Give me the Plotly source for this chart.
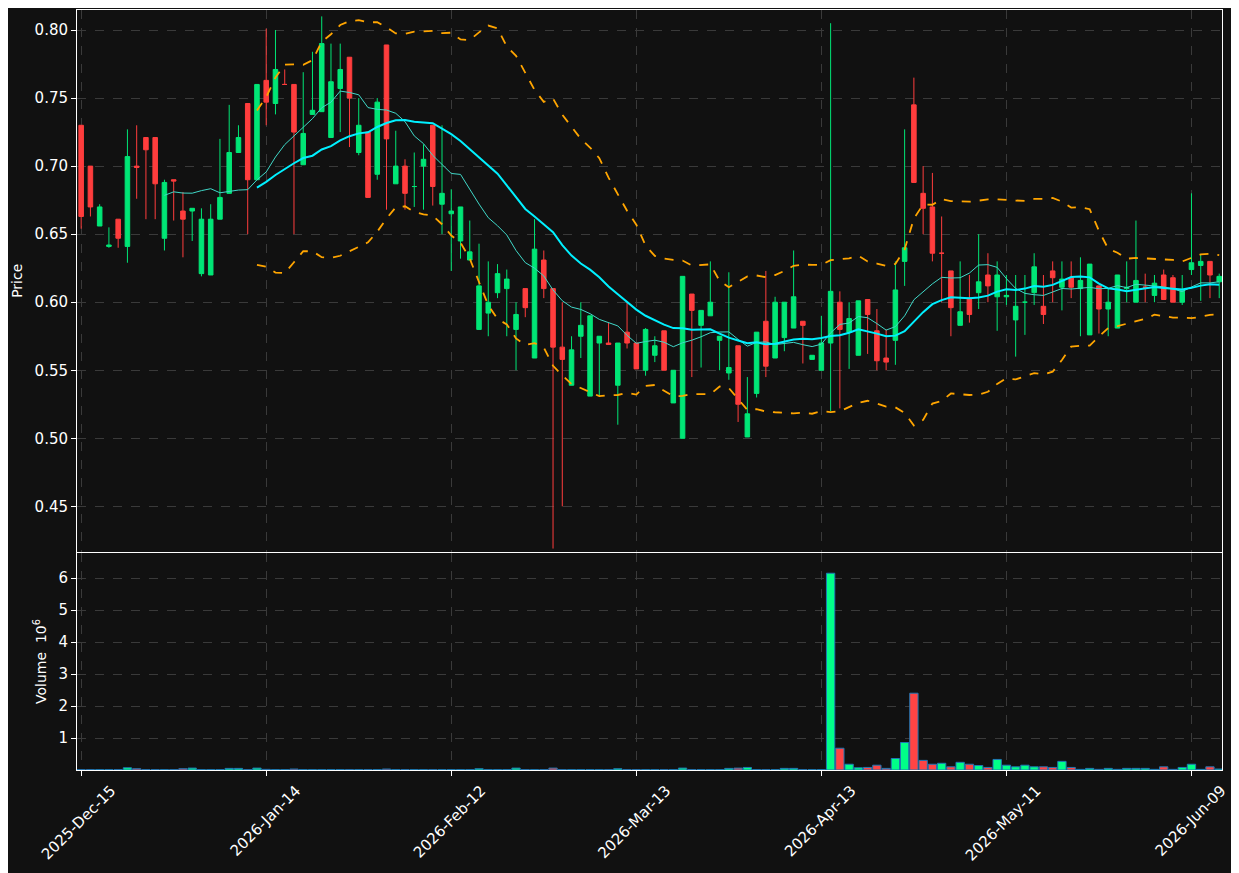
import numpy as np
import pandas as pd
import plotly.graph_objects as go
from plotly.subplots import make_subplots

opens = [0.730,0.700,0.656,0.641,0.661,0.641,0.700,0.721,0.721,0.647,0.690,0.667,0.667,0.621,0.620,0.661,0.680,0.710,0.746,0.690,
         0.763,0.746,0.760,0.760,0.701,0.738,0.740,0.721,0.757,0.780,0.710,0.725,0.694,0.789,0.687,0.700,0.685,0.700,0.730,0.672,
         0.665,0.645,0.631,0.580,0.592,0.607,0.610,0.580,0.610,0.559,0.631,0.610,0.567,0.539,0.575,0.531,0.570,0.570,0.539,0.578,
         0.570,0.550,0.561,0.579,0.526,0.500,0.606,0.583,0.590,0.572,0.548,0.568,0.501,0.533,0.586,0.559,0.574,0.581,0.586,0.558,
         0.550,0.570,0.600,0.578,0.561,0.602,0.579,0.559,0.572,0.630,0.745,0.680,0.670,0.636,0.623,0.583,0.603,0.607,0.620,0.604,
         0.604,0.587,0.600,0.607,0.597,0.623,0.611,0.618,0.610,0.576,0.612,0.595,0.581,0.610,0.600,0.611,0.605,0.620,0.618,0.600,
         0.624,0.627,0.630,0.615]
highs = [0.730,0.700,0.672,0.655,0.661,0.727,0.730,0.721,0.721,0.690,0.690,0.681,0.669,0.669,0.672,0.720,0.745,0.730,0.746,0.760,
         0.801,0.800,0.771,0.760,0.769,0.784,0.810,0.790,0.790,0.780,0.750,0.725,0.750,0.789,0.726,0.705,0.710,0.716,0.730,0.730,
         0.683,0.670,0.660,0.643,0.630,0.628,0.624,0.600,0.610,0.661,0.638,0.610,0.600,0.575,0.600,0.590,0.575,0.585,0.570,0.600,
         0.570,0.581,0.575,0.579,0.550,0.619,0.606,0.594,0.630,0.575,0.622,0.568,0.545,0.578,0.623,0.604,0.600,0.638,0.586,0.561,
         0.590,0.805,0.608,0.600,0.601,0.602,0.595,0.580,0.630,0.727,0.765,0.700,0.695,0.663,0.623,0.630,0.620,0.650,0.636,0.630,
         0.620,0.620,0.620,0.636,0.620,0.630,0.630,0.630,0.633,0.628,0.612,0.610,0.620,0.630,0.660,0.621,0.620,0.624,0.620,0.620,
         0.680,0.635,0.630,0.621]
lows = [0.654,0.663,0.656,0.640,0.640,0.629,0.676,0.661,0.661,0.638,0.660,0.633,0.645,0.619,0.620,0.661,0.680,0.710,0.650,0.690,
        0.730,0.738,0.760,0.650,0.701,0.738,0.740,0.721,0.725,0.714,0.708,0.677,0.690,0.668,0.687,0.668,0.670,0.668,0.671,0.650,
        0.623,0.632,0.631,0.580,0.575,0.603,0.575,0.550,0.589,0.559,0.603,0.419,0.450,0.539,0.559,0.531,0.531,0.570,0.510,0.566,
        0.551,0.546,0.556,0.550,0.526,0.500,0.545,0.552,0.590,0.550,0.543,0.512,0.501,0.530,0.545,0.559,0.564,0.581,0.555,0.558,
        0.550,0.520,0.522,0.551,0.561,0.562,0.550,0.550,0.554,0.612,0.688,0.650,0.630,0.600,0.575,0.583,0.585,0.595,0.600,0.579,
        0.598,0.560,0.576,0.598,0.584,0.600,0.594,0.603,0.575,0.576,0.577,0.575,0.581,0.600,0.600,0.600,0.600,0.602,0.600,0.598,
        0.620,0.601,0.603,0.603]
closes = [0.663,0.670,0.670,0.642,0.647,0.707,0.699,0.712,0.687,0.688,0.689,0.661,0.669,0.661,0.661,0.677,0.710,0.721,0.690,0.760,
          0.747,0.771,0.760,0.725,0.724,0.741,0.790,0.762,0.771,0.750,0.730,0.677,0.747,0.720,0.700,0.680,0.685,0.705,0.685,0.680,
          0.667,0.670,0.637,0.612,0.600,0.621,0.617,0.591,0.596,0.639,0.610,0.567,0.558,0.565,0.583,0.590,0.575,0.569,0.570,0.570,
          0.551,0.580,0.568,0.550,0.550,0.619,0.594,0.594,0.600,0.575,0.552,0.525,0.518,0.578,0.553,0.600,0.600,0.604,0.583,0.561,
          0.570,0.608,0.580,0.588,0.601,0.591,0.557,0.556,0.609,0.640,0.688,0.669,0.636,0.636,0.596,0.593,0.591,0.615,0.612,0.620,
          0.605,0.597,0.600,0.626,0.591,0.618,0.617,0.611,0.616,0.628,0.595,0.600,0.620,0.611,0.616,0.611,0.614,0.602,0.600,0.609,
          0.629,0.630,0.620,0.619]
volumes_m = [0.01,0.01,0.01,0.01,0.01,0.07,0.04,0.01,0.01,0.01,0.01,0.04,0.06,0.01,0.01,0.01,0.05,0.05,0.01,0.06,
             0.02,0.01,0.01,0.03,0.01,0.01,0.01,0.01,0.01,0.01,0.01,0.01,0.01,0.03,0.01,0.01,0.01,0.01,0.01,0.01,
             0.01,0.01,0.01,0.04,0.01,0.01,0.01,0.06,0.01,0.01,0.01,0.06,0.01,0.01,0.01,0.01,0.01,0.01,0.04,0.01,
             0.01,0.01,0.01,0.01,0.01,0.06,0.01,0.01,0.01,0.01,0.05,0.06,0.08,0.01,0.01,0.01,0.05,0.05,0.01,0.01,
             0.01,6.15,0.68,0.18,0.07,0.08,0.15,0.05,0.36,0.86,2.40,0.30,0.18,0.21,0.10,0.24,0.18,0.14,0.08,0.33,
             0.15,0.10,0.15,0.10,0.10,0.08,0.27,0.08,0.02,0.05,0.02,0.05,0.02,0.05,0.05,0.05,0.02,0.10,0.02,0.08,
             0.18,0.02,0.10,0.03]
tick_idx = [0, 20, 40, 60, 80, 100, 120]
tick_labels = ["2025-Dec-15", "2026-Jan-14", "2026-Feb-12", "2026-Mar-13", "2026-Apr-13", "2026-May-11", "2026-Jun-09"]

x = list(range(len(closes)))
s = pd.Series(closes)
ma10 = s.rolling(10).mean()
ma20 = s.rolling(20).mean()
sd20 = s.rolling(20).std()
bb_up = ma20 + 2 * sd20
bb_lo = ma20 - 2 * sd20

GREEN = "#00e676"
RED = "#ff3d3d"
vol_colors = ["#00ff88" if c >= o else "#ff4444" for o, c in zip(opens, closes)]

fig = make_subplots(rows=2, cols=1, shared_xaxes=True, row_heights=[0.714, 0.286], vertical_spacing=0.002)
fig.add_trace(go.Candlestick(x=x, open=opens, high=highs, low=lows, close=closes,
                             increasing=dict(line=dict(color=GREEN, width=1), fillcolor=GREEN),
                             decreasing=dict(line=dict(color=RED, width=1), fillcolor=RED),
                             whiskerwidth=0, showlegend=False), row=1, col=1)
fig.add_trace(go.Scatter(x=x, y=ma10, mode="lines", line=dict(color="#40d8c8", width=1), showlegend=False), row=1, col=1)
fig.add_trace(go.Scatter(x=x, y=ma20, mode="lines", line=dict(color="#00f0ff", width=2), showlegend=False), row=1, col=1)
fig.add_trace(go.Scatter(x=x, y=bb_up, mode="lines", line=dict(color="#ffa500", width=1.8, dash="dash"), showlegend=False), row=1, col=1)
fig.add_trace(go.Scatter(x=x, y=bb_lo, mode="lines", line=dict(color="#ffa500", width=1.8, dash="dash"), showlegend=False), row=1, col=1)
fig.add_trace(go.Bar(x=x, y=volumes_m, marker=dict(color=vol_colors, line=dict(color="#1f77b4", width=1)),
                     width=0.9, showlegend=False), row=2, col=1)

axis_common = dict(showline=True, linecolor="white", linewidth=1, mirror=True, automargin=False,
                   gridcolor="#3a3a3a", griddash="dash", zeroline=False,
                   tickfont=dict(color="white", size=15), ticks="outside", tickcolor="white")
fig.update_xaxes(**axis_common, range=[-0.45, 123.3], tickvals=tick_idx, ticktext=tick_labels,
                 rangeslider_visible=False)
fig.update_xaxes(tickangle=-45, ticklabelshift=30, row=2, col=1)
fig.update_yaxes(**axis_common)
fig.update_yaxes(range=[0.4168, 0.8147], dtick=0.05, tickformat=".2f",
                 title=dict(text="Price", font=dict(color="white", size=14), standoff=8), row=1, col=1)
fig.update_yaxes(range=[0, 6.78], tickvals=[1, 2, 3, 4, 5, 6],
                 title=dict(text="Volume  10<sup>6</sup>", font=dict(color="white", size=14), standoff=8), row=2, col=1)

fig.update_layout(width=1223, height=865, paper_bgcolor="#111111", plot_bgcolor="#111111",
                  margin=dict(l=69, r=9, t=2, b=103), bargap=0.1,
                  font=dict(family="DejaVu Sans", color="white"))
fig.write_html("out.html")
